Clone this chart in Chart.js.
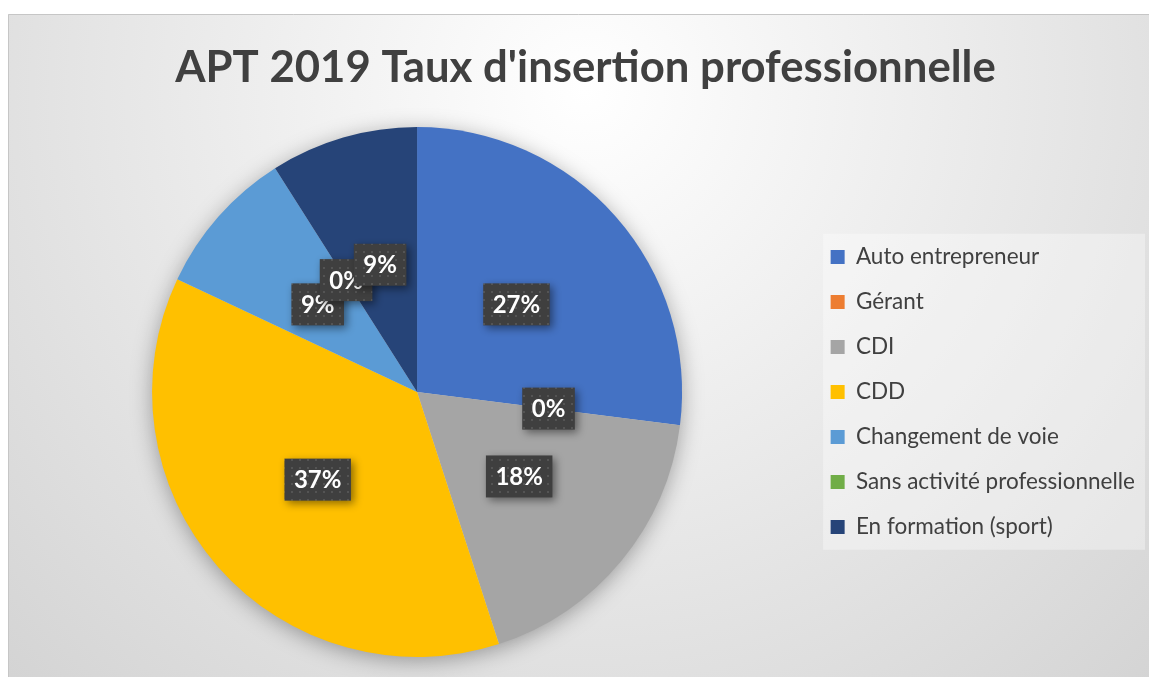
<!DOCTYPE html>
<html>
<head>
<meta charset="utf-8">
<script src="https://cdn.jsdelivr.net/npm/chart.js@4.4.1/dist/chart.umd.min.js"></script>
<style>
  html, body { margin: 0; padding: 0; background: #fff; }
  #wrap { position: absolute; left: 0; top: 0; width: 1149px; height: 677px; }
</style>
</head>
<body>
<div id="wrap"><canvas id="pie"></canvas></div>
<script>
const labels = [
  "Auto entrepreneur",
  "Gérant",
  "CDI",
  "CDD",
  "Changement de voie",
  "Sans activité professionnelle",
  "En formation (sport)"
];
// percentages as shown on the slices
const values = [27, 0, 18, 37, 9, 0, 9];
const colors = ["#4472C4", "#ED7D31", "#A5A5A5", "#FFC000", "#5B9BD5", "#70AD47", "#264478"];

const FONT = "Lato, 'Open Sans', sans-serif";

// dotted dark texture used behind the data labels
function makeLabelPattern(ctx) {
  const c = document.createElement("canvas");
  c.width = 8;
  c.height = 8;
  const p = c.getContext("2d");
  p.fillStyle = "#3f3f3f";
  p.fillRect(0, 0, 8, 8);
  p.fillStyle = "#545454";
  p.fillRect(3, 3, 2, 2);
  return ctx.createPattern(c, "repeat");
}

// background, frame and legend panel
const backdrop = {
  id: "backdrop",
  beforeDraw(chart) {
    const ctx = chart.ctx;
    const w = chart.width, h = chart.height;
    ctx.save();
    ctx.fillStyle = "#fff";
    ctx.fillRect(0, 0, w, h);
    const g = ctx.createRadialGradient(585, 90, 0, 585, 90, 820);
    g.addColorStop(0, "#ffffff");
    g.addColorStop(1, "#d4d4d4");
    ctx.fillStyle = g;
    ctx.fillRect(8, 14, w - 8, h - 14);
    ctx.strokeStyle = "#c6c6c6";
    ctx.lineWidth = 1;
    ctx.beginPath();
    ctx.moveTo(8.5, h);
    ctx.lineTo(8.5, 14.5);
    ctx.lineTo(w, 14.5);
    ctx.stroke();

    // legend panel
    const lg = chart.legend;
    if (lg && lg.columnSizes && lg.columnSizes.length) {
      const pad = lg.options.labels.padding;
      const colH = lg.columnSizes[0].height;
      const y0 = (lg.top + pad + lg.bottom - colH) / 2;
      ctx.fillStyle = "rgba(255,255,255,0.35)";
      ctx.fillRect(lg.left + 15, y0 - 12, lg.right - lg.left - 15, colH + 1);
    }
    ctx.restore();
  }
};

// soft shadow under the whole pie
const pieShadow = {
  id: "pieShadow",
  beforeDatasetsDraw(chart) {
    const arc = chart.getDatasetMeta(0).data[0];
    if (!arc) return;
    const ctx = chart.ctx;
    ctx.save();
    ctx.shadowColor = "rgba(0,0,0,0.35)";
    ctx.shadowBlur = 22;
    ctx.shadowOffsetY = 4;
    ctx.fillStyle = "#cfcfcf";
    ctx.beginPath();
    ctx.arc(arc.x, arc.y, arc.outerRadius - 1, 0, Math.PI * 2);
    ctx.fill();
    ctx.restore();
  }
};

// dark boxed percentage labels
const sliceLabels = {
  id: "sliceLabels",
  afterDatasetsDraw(chart) {
    const ctx = chart.ctx;
    const pattern = makeLabelPattern(ctx);
    const meta = chart.getDatasetMeta(0);
    ctx.save();
    ctx.font = "bold 24px " + FONT;
    ctx.textAlign = "center";
    ctx.textBaseline = "middle";
    meta.data.forEach((arc, i) => {
      const pos = arc.tooltipPosition();
      const text = values[i] + "%";
      const tw = ctx.measureText(text).width;
      const bw = tw + 19, bh = 42;
      const x = pos.x - bw / 2, y = pos.y - bh / 2;
      ctx.save();
      ctx.shadowColor = "rgba(0,0,0,0.45)";
      ctx.shadowBlur = 8;
      ctx.shadowOffsetX = 3;
      ctx.shadowOffsetY = 3;
      ctx.fillStyle = pattern;
      ctx.fillRect(x, y, bw, bh);
      ctx.restore();
      ctx.fillStyle = "#ffffff";
      ctx.fillText(text, pos.x, pos.y + 1);
    });
    ctx.restore();
  }
};

new Chart(document.getElementById("pie"), {
  type: "pie",
  data: {
    labels: labels,
    datasets: [{
      data: values,
      backgroundColor: colors,
      borderWidth: 0
    }]
  },
  options: {
    responsive: true,
    maintainAspectRatio: false,
    animation: false,
    layout: { padding: { left: 26, right: 4, top: 14, bottom: 20 } },
    plugins: {
      tooltip: { enabled: false },
      title: {
        display: true,
        text: "APT 2019 Taux d'insertion professionnelle",
        color: "#404040",
        font: { family: FONT, size: 43.7, weight: "bold", lineHeight: 1.2 },
        padding: { top: 28, bottom: 32.56 }
      },
      legend: {
        position: "right",
        fullSize: false,
        labels: {
          color: "#404040",
          font: { family: FONT, size: 22.5 },
          boxWidth: 14,
          boxHeight: 14,
          padding: 22.5
        }
      }
    }
  },
  plugins: [backdrop, pieShadow, sliceLabels]
});
</script>
</body>
</html>
